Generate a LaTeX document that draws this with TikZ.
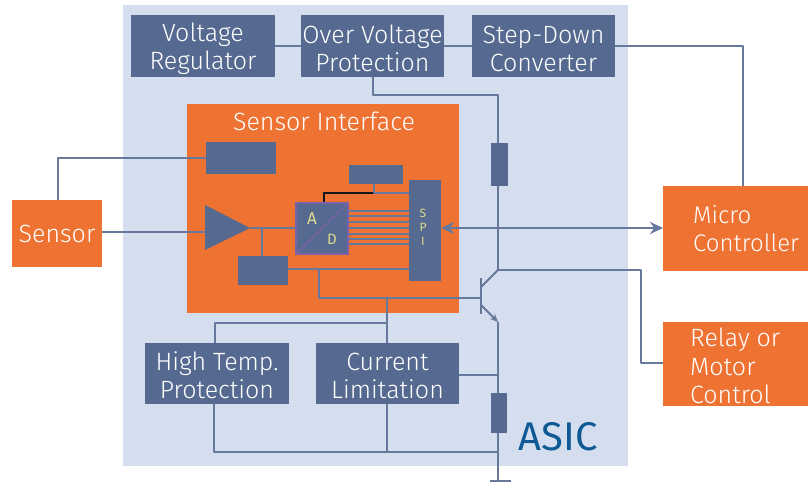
\documentclass[tikz,border=0pt]{standalone}
\usepackage{fontspec}
\setmainfont{Fira Sans Light}
\usetikzlibrary{arrows.meta}
\definecolor{asicbg}{HTML}{D5DEEF}
\definecolor{navy}{HTML}{566A91}
\definecolor{wire}{HTML}{66789C}
\definecolor{orng}{HTML}{EE7231}
\definecolor{asict}{HTML}{0F5A94}
\definecolor{yel}{HTML}{DCD98A}
\definecolor{purp}{HTML}{7A62A8}
\tikzset{
 x=1pt,y=-1pt,
 box/.style={fill=navy,draw=none,inner sep=0pt,outer sep=0pt},
 boxtext/.style={text=white,align=center,inner sep=0pt,yshift=-2.5pt,font=\fontsize{25}{28}\selectfont},
 obox/.style={fill=orng,draw=none,inner sep=0pt,outer sep=0pt,text=white,font=\fontsize{25}{28}\selectfont},
 wr/.style={draw=wire,line width=2pt,line join=round},
 sl/.style={font=\fontsize{12}{12}\selectfont\fontspec{Fira Sans},text=yel,inner sep=0pt},
}
\begin{document}
\begin{tikzpicture}
\useasboundingbox (0,0) rectangle (808,483);
\fill[white] (0,0) rectangle (808,483);
\node[fill=asicbg,inner sep=0pt,minimum width=505pt,minimum height=461pt] (asic) at (375.5,235.5) {};
\node[fill=orng,inner sep=0pt,minimum width=272pt,minimum height=209pt] (si) at (323,208.5) {};
\node[text=white,inner sep=0pt,font=\fontsize{25}{28}\selectfont] (sit) at (324,121) {Sensor Interface};
% boxes
\node[box,minimum width=144pt,minimum height=62pt,label={[boxtext]center:Voltage\\Regulator}] (vr) at (203,46) {};
\node[box,minimum width=143pt,minimum height=62pt,label={[boxtext]center:Over Voltage\\Protection}] (ovp) at (372.5,46) {};
\node[box,minimum width=143pt,minimum height=62pt,label={[boxtext]center:Step-Down\\Converter}] (sdc) at (543.5,46) {};
\node[box,minimum width=144pt,minimum height=61pt,label={[boxtext,yshift=0.5pt]center:High Temp.\\Protection}] (htp) at (217,373.5) {};
\node[box,minimum width=143pt,minimum height=61pt,label={[boxtext,yshift=0.5pt]center:Current\\Limitation}] (cl) at (387.5,373.5) {};
\node[box,minimum width=70pt,minimum height=32pt] (b1) at (240.5,158) {};
\node[box,minimum width=54pt,minimum height=19pt] (b2) at (376,174.5) {};
\node[box,minimum width=32pt,minimum height=101pt] (spi) at (425,230.5) {};
\node[box,minimum width=50pt,minimum height=29pt] (b3) at (263,270.5) {};
\node[fill=navy,draw=purp,line width=1.4pt,inner sep=0pt,minimum width=52pt,minimum height=51pt] (ad) at (322,228.5) {};
\node[sl] (spis) at (423,213) {S};
\node[sl] (spip) at (423,227) {P};
\node[sl] (spii) at (423,241) {I};
\node[sl,font=\fontsize{17}{17}\selectfont\fontspec{Fira Sans}] (adA) at (312,219) {A};
\node[sl,font=\fontsize{15}{15}\selectfont\fontspec{Fira Sans}] (adD) at (332,239) {D};
\coordinate (t1) at (205,205);
\coordinate (t2) at (205,250);
\coordinate (t3) at (250,228);
\fill[navy] (t1) -- (t3) -- (t2) -- cycle;
\draw[purp,line width=1.2pt] (ad.south west) -- (ad.north east);
\node[fill=navy,minimum width=17pt,minimum height=43pt,inner sep=0pt] (r1) at (499.5,164.5) {};
\node[fill=navy,minimum width=16pt,minimum height=40pt,inner sep=0pt] (r2) at (499,413) {};
% outer orange
\node[obox,minimum width=90pt,minimum height=67pt] (sensor) at (57,233.5) {Sensor};
\node[obox,minimum width=145pt,minimum height=85pt] (mc) at (735.5,228.5) {};
\node[text=white,inner sep=0pt,anchor=west,align=left,font=\fontsize{24}{28}\selectfont] (mct) at (693,229) {Micro\\Controller};
\node[obox,minimum width=145pt,minimum height=84pt] (rm) at (735.5,364) {};
\node[text=white,inner sep=0pt,anchor=west,align=left,font=\fontsize{25}{28.5}\selectfont] (rmt) at (690,366) {Relay or\\Motor\\Control};
\node[text=asict,inner sep=0pt,font=\fontsize{40}{40}\selectfont\fontspec{Fira Sans}] (asict) at (558,437) {ASIC};
% coordinates
\coordinate (j1) at (498,95);
\coordinate (col) at (498,270);
\coordinate (em) at (498,322);
\coordinate (gj) at (498,452);
\coordinate (gnd) at (498,481);
\coordinate (gl) at (490,481);
\coordinate (gr) at (511,481);
\coordinate (b) at (481,298);
\coordinate (bt) at (481,278);
\coordinate (bb) at (481,314);
\coordinate (cb) at (481,287);
\coordinate (eb) at (481,305);
% connectors
\draw[wr] (vr.east) -- (ovp.west);
\draw[wr] (ovp.east) -- (sdc.west);
\draw[wr] (sdc.east) -| (mc.north -| 743,0);
\draw[wr] (ovp.south) |- (j1) -- (498,143);
\draw[wr] (498,186) -- (col);
\draw[wr] (col) -- (641,270) |- (rm.west |- 0,363);
\draw[wr] (b1.west) -| (sensor.north -| 58,0);
\draw[wr] (sensor.east |- 0,232) -- (205,232);
\draw[wr] (t3) -- (ad.west |- t3);
\draw[wr] (262,228) -- (b3.north -| 262,0);
\draw[line width=1.8pt,draw=black!80!navy] (ad.north -| 324,0) |- (374,193);
\draw[wr,line width=1.6pt] (b2.south -| 374,0) |- (spi.west |- 0,193);
\foreach \yy in {211,216,222,228,234,239,244}
  \draw[draw=wire,line width=1.4pt] (ad.east |- 0,\yy) -- (spi.west |- 0,\yy);
\draw[wr] (b3.east |- 0,269) -- (spi.west |- 0,269);
\draw[wr] (319,269) |- (b);
\draw[wr] (387,298) -- (cl.north -| 387,0);
\draw[wr] (387,323) -| (htp.north -| 215,0);
\draw[{Stealth[length=13pt,width=12pt]}-{Stealth[length=13pt,width=12pt]},draw=wire,line width=2pt] (spi.east |- 0,228) -- (mc.west |- 0,228);
\draw[line width=2pt,draw=wire] (bt) -- (bb);
\draw[wr] (cb) -- (col);
\draw[wr,-{Stealth[length=8pt,width=7pt]}] (eb) -- (em);
\draw[wr] (em) -- (498,393);
\draw[wr] (cl.east |- 0,375) -- (498,375);
\draw[wr] (498,433) -- (gnd);
\draw[wr] (htp.south -| 214,0) |- (gj);
\draw[wr] (cl.south -| 387,0) -- (387,452);
\draw[line width=2.4pt,draw=wire] (gl) -- (gr);
\end{tikzpicture}
\end{document}
